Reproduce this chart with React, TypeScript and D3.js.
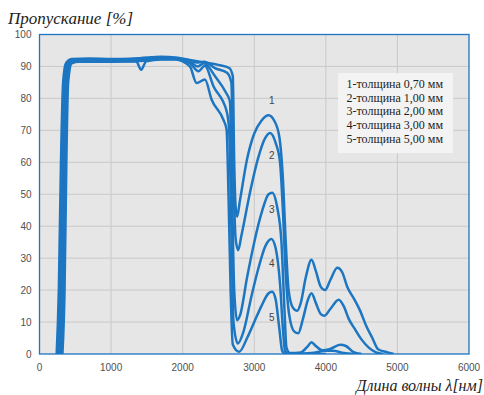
import React from 'react';
import * as d3 from 'd3';

const W = 484;
const H = 395;
const M = { top: 34.5, right: 15, bottom: 41, left: 39.5 };

// wavelength, nm  /  transmission, %
const xTicks = [0, 1000, 2000, 3000, 4000, 5000, 6000];
const yTicks = [0, 10, 20, 30, 40, 50, 60, 70, 80, 90, 100];

const curve1: [number, number][] = [
  [240, 0], [270, 20], [300, 60], [330, 85], [370, 91], [450, 92.3], [700, 92.5], [1000, 92.3],
  [1400, 92.6], [1700, 93], [1900, 92.8], [2100, 92], [2300, 91.3], [2500, 90.5], [2650, 89.5],
  [2700, 87], [2720, 60], [2740, 46], [2760, 43], [2800, 48], [2900, 61], [3000, 69], [3100, 73],
  [3200, 74.7], [3280, 73], [3350, 68], [3400, 55], [3440, 35], [3480, 20], [3540, 14.5],
  [3600, 13.5], [3650, 16], [3720, 24], [3800, 29.5], [3860, 26], [3930, 21], [3990, 20],
  [4060, 23], [4160, 27], [4230, 25.5], [4300, 21], [4400, 17], [4480, 13.5], [4560, 9],
  [4650, 5], [4730, 1.5], [4850, 0.6], [4950, 0],
];

const curve2: [number, number][] = [
  [260, 0], [290, 20], [320, 60], [350, 85], [390, 91], [470, 92], [700, 92.2], [1000, 92],
  [1400, 92.3], [1700, 92.8], [1900, 92.6], [2100, 91.8], [2200, 91.2], [2300, 91.5],
  [2450, 89.5], [2620, 88], [2680, 85], [2710, 55], [2740, 36], [2775, 32.5], [2820, 37],
  [2940, 50.5], [3050, 61], [3150, 67.5], [3220, 69.2], [3300, 66], [3360, 60], [3400, 45],
  [3440, 25], [3490, 12], [3560, 7], [3615, 6.5], [3680, 11], [3750, 17], [3800, 19],
  [3860, 16], [3930, 12.5], [3980, 12], [4060, 14], [4180, 17], [4250, 15], [4320, 11],
  [4400, 8], [4500, 4.5], [4600, 2], [4700, 0.5], [4800, 0],
];

const curve3: [number, number][] = [
  [280, 0], [310, 20], [340, 60], [370, 85], [410, 91], [500, 91.8], [1000, 91.8], [1400, 91.8],
  [1700, 92.5], [1900, 92.5], [2100, 91.5], [2210, 90], [2300, 91], [2450, 87], [2600, 82],
  [2660, 79], [2690, 50], [2720, 20], [2760, 10.6], [2800, 12], [2900, 24], [3000, 35],
  [3100, 44], [3200, 50], [3250, 50.5], [3320, 46], [3380, 35], [3420, 15], [3450, 2],
  [3500, 0.3], [3650, 0.5], [3750, 2.5], [3800, 3.7], [3860, 2.5], [3950, 1.2], [4050, 1.5],
  [4200, 2.9], [4280, 2.5], [4380, 0.7], [4500, 0],
];

const curve4: [number, number][] = [
  [300, 0], [330, 20], [360, 60], [390, 85], [430, 91], [520, 91.6], [1000, 91.6], [1400, 91.7],
  [1700, 92.3], [1900, 92.3], [2100, 91], [2220, 88.5],
  [2310, 90.2], [2430, 83.8], [2614, 76], [2650, 70], [2680, 40], [2710, 10], [2770, 3.3],
  [2850, 7], [2960, 18], [3060, 27], [3160, 34], [3240, 36], [3300, 33], [3360, 22], [3400, 8],
  [3430, 1], [3480, 0], [3800, 0.3], [4000, 1], [4100, 1], [4250, 0.3], [4400, 0],
];

const curve5: [number, number][] = [
  [320, 0], [350, 20], [375, 60], [400, 85], [450, 91], [550, 91.5], [1000, 91.5], [1350, 91.6],
  [1420, 89], [1490, 91.6], [1700, 92.2], [1900, 92.2], [2100, 90], [2195, 84.8], [2311, 85.9],
  [2405, 79.6], [2567, 73.4], [2614, 70.2], [2640, 50], [2670, 20], [2700, 3], [2790, 0.7],
  [2900, 5], [3000, 10], [3100, 15], [3200, 19], [3250, 19.5], [3300, 17], [3350, 8],
  [3390, 1], [3430, 0], [4000, 0],
];

const curves = [curve1, curve2, curve3, curve4, curve5];
const curveLabels = ['1', '2', '3', '4', '5'];
const labelX = 3245;
const labelT = [79.3, 62.2, 45.1, 28.2, 11.4];

const legendItems = [
  '1-толщина 0,70 мм',
  '2-толщина 1,00 мм',
  '3-толщина 2,00 мм',
  '4-толщина 3,00 мм',
  '5-толщина 5,00 мм',
];

const BLUE = '#1c76c2';

export default function App() {
  const x = d3.scaleLinear().domain([0, 6000]).range([M.left, W - M.right]);
  const y = d3.scaleLinear().domain([0, 100]).range([H - M.bottom, M.top]);
  const line = d3
    .line<[number, number]>()
    .x((d) => x(d[0]))
    .y((d) => y(d[1]))
    .curve(d3.curveMonotoneX);

  const pw = x(6000) - x(0);
  const ph = y(0) - y(100);

  return (
    <svg
      width={W}
      height={H}
      style={{ position: 'absolute', left: 0, top: 0, background: '#fff' }}
    >
      <rect x={x(0)} y={y(100)} width={pw} height={ph} fill="#e6e6e6" />
      {xTicks.slice(1, -1).map((t) => (
        <line key={'gx' + t} x1={x(t)} x2={x(t)} y1={y(0)} y2={y(100)} stroke="#c9c9c9" strokeWidth={1} />
      ))}
      {yTicks.slice(1, -1).map((t) => (
        <line key={'gy' + t} x1={x(0)} x2={x(6000)} y1={y(t)} y2={y(t)} stroke="#c9c9c9" strokeWidth={1} />
      ))}
      <rect x={x(0)} y={y(100)} width={pw} height={ph} fill="none" stroke={BLUE} strokeWidth={1.3} />

      {yTicks.map((t) => (
        <text key={'ty' + t} x={31.5} y={y(t) + 3.5} textAnchor="end" fontFamily="Liberation Sans, Arial, sans-serif" fontSize={10} fill="#505050">
          {t}
        </text>
      ))}
      {xTicks.map((t) => (
        <text key={'tx' + t} x={x(t)} y={371} textAnchor="middle" fontFamily="Liberation Sans, Arial, sans-serif" fontSize={10} fill="#505050">
          {t}
        </text>
      ))}

      <g clipPath="url(#clip)">
        <clipPath id="clip">
          <rect x={x(0)} y={y(100) - 2} width={pw} height={ph + 2} />
        </clipPath>
        {curves.map((c, i) => (
          <path key={'c' + i} d={line(c) ?? ''} fill="none" stroke={BLUE} strokeWidth={2.5} strokeLinejoin="round" />
        ))}
      </g>

      {curveLabels.map((l, i) => (
        <text key={'l' + l} x={x(labelX)} y={y(labelT[i]) + 3.5} textAnchor="middle" fontFamily="Liberation Sans, Arial, sans-serif" fontSize={10} fill="#444">
          {l}
        </text>
      ))}

      <rect x={338} y={73} width={115} height={80} fill="#f3f3f3" />
      {legendItems.map((s, i) => (
        <text key={'lg' + i} x={346.5} y={88 + i * 13.7} fontFamily="Liberation Serif, Times New Roman, serif" fontSize={12} fill="#222">
          {s}
        </text>
      ))}

      <text x={8} y={24} fontFamily="Liberation Serif, Times New Roman, serif" fontStyle="italic" fontSize={17} fill="#222">
        Пропускание [%]
      </text>
      <text x={483} y={391} textAnchor="end" fontFamily="Liberation Serif, Times New Roman, serif" fontStyle="italic" fontSize={16} fill="#222">
        Длина волны λ[нм]
      </text>
    </svg>
  );
}
